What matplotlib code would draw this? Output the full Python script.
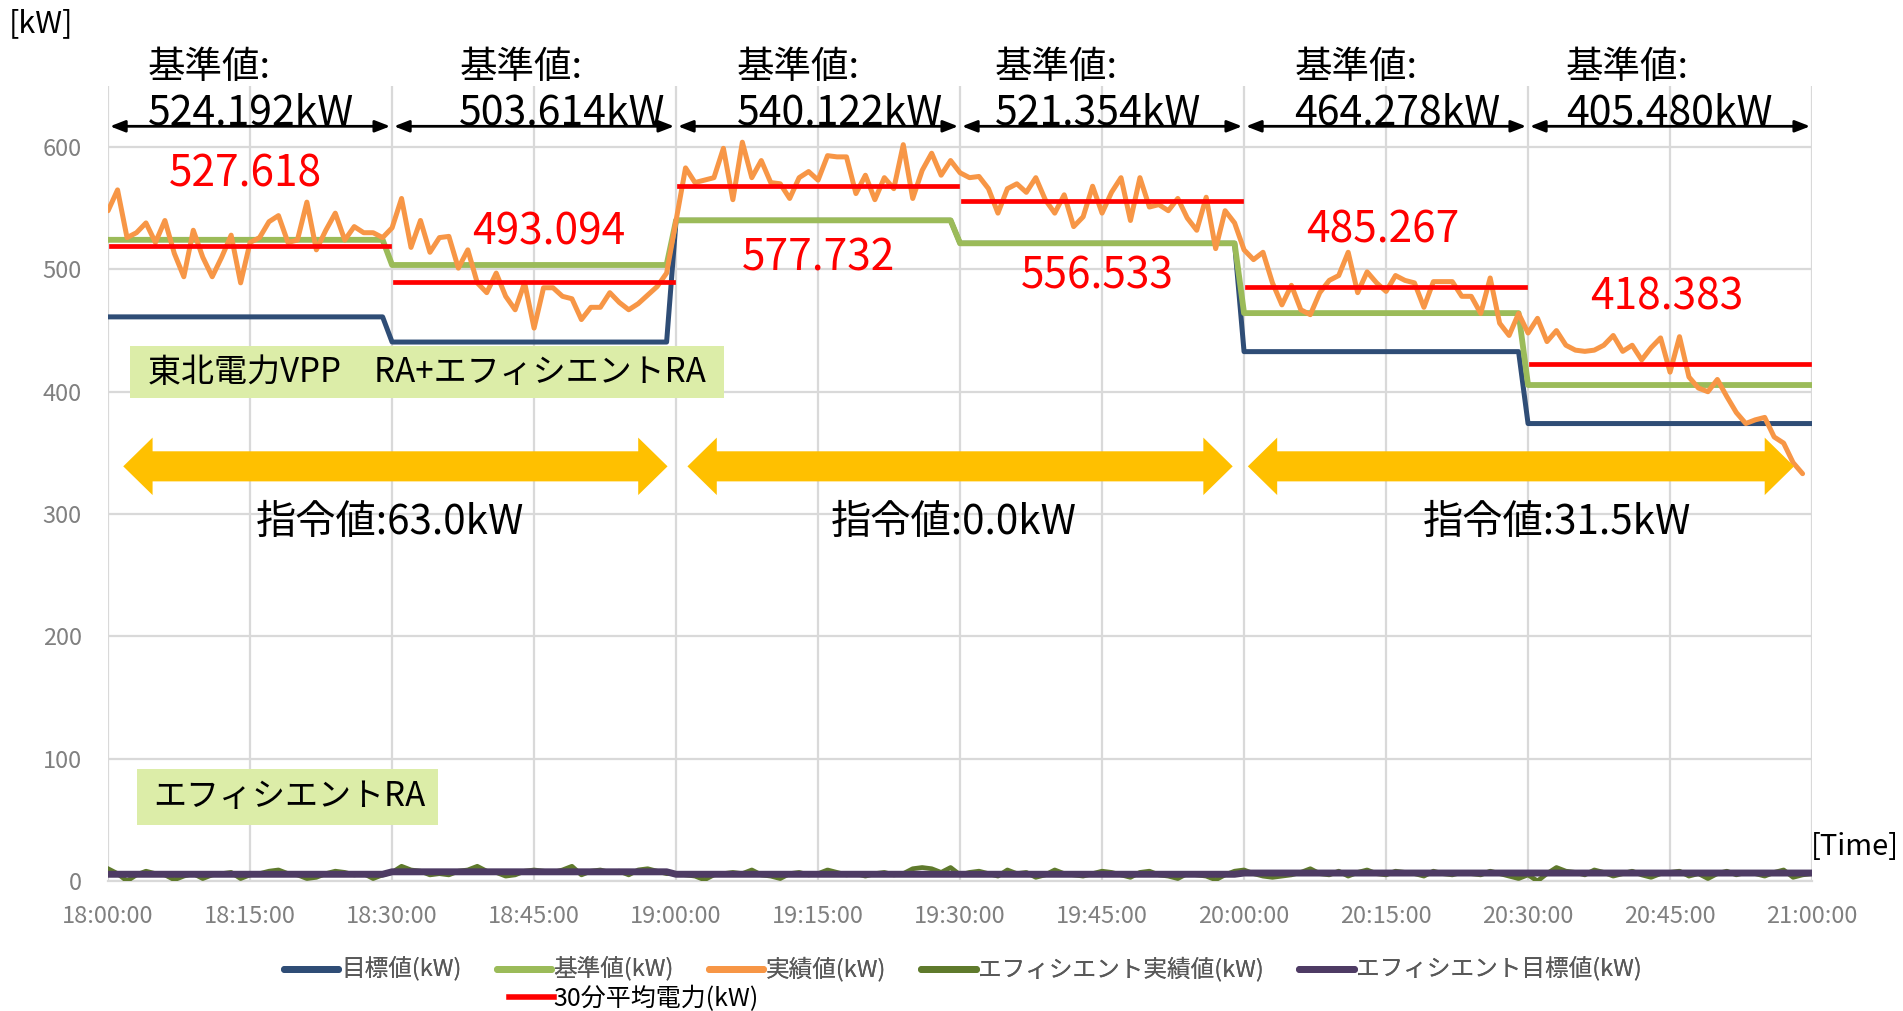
import numpy as np
import matplotlib.pyplot as plt
from matplotlib.patches import Polygon, Rectangle
from matplotlib.lines import Line2D

plt.rcParams["font.family"] = ["Noto Sans CJK JP", "DejaVu Sans"]

# ----------------------------
# Data (1-minute samples from 18:00, x = minutes since 18:00)
# ----------------------------
tick_labels = ["18:00:00", "18:15:00", "18:30:00", "18:45:00", "19:00:00",
               "19:15:00", "19:30:00", "19:45:00", "20:00:00", "20:15:00",
               "20:30:00", "20:45:00", "21:00:00"]

period_starts = [0, 30, 60, 90, 120, 150]
baseline_kw = [524.192, 503.614, 540.122, 521.354, 464.278, 405.480]
baseline_text = ["524.192kW", "503.614kW", "540.122kW", "521.354kW", "464.278kW", "405.480kW"]
command_kw = [63.0, 63.0, 0.0, 0.0, 31.5, 31.5]
command_text = ["指令値:63.0kW", "指令値:0.0kW", "指令値:31.5kW"]

# red 30-minute average bars (as drawn) and their labels
avg_line_kw = [519, 490, 568, 556, 486, 423]
avg_text = ["527.618", "493.094", "577.732", "556.533", "485.267", "418.383"]

# efficient RA target per half hour
eff_target_kw = [5.5, 7.5, 5.5, 5.5, 6.5, 6.5]

# measured power, 18:00 .. 20:59
actual_kw = [
    548, 565, 526, 530, 538, 522, 540, 513, 494, 532, 510, 494, 510, 528, 489,
    522, 526, 539, 544, 522, 524, 555, 516, 532, 546, 524, 535, 530, 530, 526,
    534, 558, 518, 540, 514, 526, 527, 501, 516, 489, 481, 497, 478, 467, 489,
    452, 485, 485, 478, 476, 459, 469, 469, 481, 473, 467, 472, 479, 486, 497,
    540, 583, 571, 573, 575, 599, 557, 604, 575, 589, 571, 570, 558, 575, 580,
    573, 593, 592, 592, 562, 577, 557, 575, 566, 602, 558, 581, 595, 577, 589,
    579, 575, 576, 566, 546, 566, 570, 563, 575, 557, 546, 561, 535, 543, 568,
    546, 563, 575, 540, 575, 551, 553, 548, 558, 542, 532, 559, 517, 548, 538,
    516, 508, 514, 489, 471, 487, 467, 463, 481, 491, 495, 514, 481, 498, 489,
    482, 495, 491, 489, 469, 490, 490, 490, 478, 478, 464, 493, 456, 446, 464,
    448, 460, 441, 450, 438, 434, 433, 434, 438, 446, 433, 438, 426, 436, 444,
    416, 445, 412, 403, 400, 410, 396, 383, 374, 377, 379, 363, 358, 342, 333,
]

# efficient RA measured power, 18:00 .. 21:00
eff_actual_kw = [
    10, 6, 0, 5, 8, 6, 5, 1, 4, 6, 2, 5, 6, 7, 2, 5, 6, 8, 9, 6, 5, 2, 3, 6, 8, 7, 5, 6, 2, 5,
    7, 12, 9, 8, 5, 6, 5, 8, 9, 12, 8, 7, 4, 5, 8, 9, 8, 7, 9, 12, 5, 8, 9, 7, 8, 5, 9, 10, 8, 6,
    6, 5, 4, 1, 5, 6, 7, 6, 9, 5, 4, 2, 6, 7, 5, 6, 9, 7, 5, 6, 4, 6, 7, 5, 6, 10, 11, 10, 7, 11,
    5, 7, 8, 6, 4, 9, 6, 7, 3, 5, 9, 6, 5, 4, 6, 8, 7, 5, 3, 7, 8, 5, 4, 2, 6, 5, 4, 1, 5, 8,
    9, 6, 4, 3, 4, 5, 7, 10, 6, 5, 8, 4, 7, 9, 6, 5, 8, 7, 6, 4, 8, 6, 5, 7, 6, 5, 8, 6, 4, 2,
    5, 0, 6, 11, 8, 7, 5, 9, 7, 4, 6, 8, 5, 3, 6, 7, 8, 4, 6, 2, 6, 8, 5, 7, 6, 4, 7, 9, 3, 5, 6,
]

# ----------------------------
# Step series on the minute grid
# ----------------------------
minutes = np.arange(181)
period_idx = np.minimum(minutes // 30, 5)
baseline_series = np.array(baseline_kw)[period_idx]
target_series = (np.array(baseline_kw) - np.array(command_kw))[period_idx]
eff_target_series = np.array(eff_target_kw)[period_idx]

C_BLUE = "#2F4D76"
C_GREEN = "#9BBB59"
C_ORANGE = "#F79646"
C_DGREEN = "#5F7A2C"
C_PURPLE = "#4E3B64"
C_RED = "#FF0000"
C_GRID = "#D9D9D9"
C_TICK = "#808080"

fig = plt.figure(figsize=(19.03, 10.11), dpi=100)
ax = fig.add_axes([0.0568, 0.1286, 0.8954, 0.7864])

ax.plot(minutes, target_series, color=C_BLUE, lw=3.6, solid_capstyle="round", zorder=3)
ax.plot(minutes, baseline_series, color=C_GREEN, lw=4.2, solid_capstyle="round", zorder=4)
ax.plot(minutes[:len(actual_kw)], actual_kw, color=C_ORANGE, lw=3.6,
        solid_capstyle="round", solid_joinstyle="round", zorder=5)
ax.plot(minutes, eff_actual_kw, color=C_DGREEN, lw=3.4, zorder=5)
ax.plot(minutes, eff_target_series, color=C_PURPLE, lw=5.0, solid_capstyle="round", zorder=6)

# red half-hour averages
for t0, v in zip(period_starts, avg_line_kw):
    ax.plot([t0 + 0.3, t0 + 29.7], [v, v], color=C_RED, lw=3.4, zorder=7)

# ----------------------------
# Axes styling
# ----------------------------
ax.set_xlim(0, 180)
ax.set_ylim(0, 650)
ax.set_xticks(range(0, 181, 15))
ax.set_xticklabels(tick_labels)
ax.set_yticks(range(0, 601, 100))
ax.tick_params(axis="both", length=0, labelsize=17, colors=C_TICK)
ax.tick_params(axis="x", pad=17)
ax.tick_params(axis="y", pad=19)
ax.grid(color=C_GRID, lw=1.6, zorder=0)
ax.set_axisbelow(True)
for side in ["top", "right", "left"]:
    ax.spines[side].set_visible(False)
ax.spines["bottom"].set_color(C_GRID)
ax.spines["bottom"].set_linewidth(1.6)

# ----------------------------
# Baseline labels with black double arrows
# ----------------------------
label_dx = [4.2, 7.1, 6.4, 3.7, 5.3, 4.0]
for t0, txt, dx in zip(period_starts, baseline_text, label_dx):
    ax.annotate("", xy=(t0 + 0.2, 617), xytext=(t0 + 29.8, 617),
                arrowprops=dict(arrowstyle="<|-|>,head_length=0.9,head_width=0.35",
                                color="black", lw=2, shrinkA=0, shrinkB=0),
                annotation_clip=False, zorder=8)
    ax.text(t0 + dx, 665, "基準値:", fontsize=27, ha="left", va="center", clip_on=False)
    ax.text(t0 + dx, 628, txt, fontsize=29.5, ha="left", va="center", clip_on=False, zorder=9)

# red average labels
avg_text_x = [14.5, 46.6, 75.0, 104.5, 134.7, 164.6]
avg_text_y = [578, 530, 509, 494, 532, 477]
for x, y, txt in zip(avg_text_x, avg_text_y, avg_text):
    ax.text(x, y, txt, fontsize=30.5, color=C_RED, ha="center", va="center", zorder=9)

# ----------------------------
# Yellow command arrows
# ----------------------------
arrow_y = 339
head_len, head_half, body_half = 3.1, 23.5, 12.3
arrow_left = [1.6, 61.2, 120.4]
arrow_right = [59.1, 118.8, 178.1]
for x0, x1 in zip(arrow_left, arrow_right):
    verts = [
        (x0, arrow_y), (x0 + head_len, arrow_y + head_half), (x0 + head_len, arrow_y + body_half),
        (x1 - head_len, arrow_y + body_half), (x1 - head_len, arrow_y + head_half), (x1, arrow_y),
        (x1 - head_len, arrow_y - head_half), (x1 - head_len, arrow_y - body_half),
        (x0 + head_len, arrow_y - body_half), (x0 + head_len, arrow_y - head_half),
    ]
    ax.add_patch(Polygon(verts, closed=True, facecolor="#FFC000", edgecolor="none", zorder=6))

command_text_x = [29.8, 89.3, 153.1]
for x, txt in zip(command_text_x, command_text):
    ax.text(x, 293, txt, fontsize=29, ha="center", va="center", zorder=9)

# ----------------------------
# Green label boxes
# ----------------------------
ax.add_patch(Rectangle((2.3, 395), 62.8, 42.5, facecolor="#DCEDA8", edgecolor="none", zorder=7))
ax.text(4.2, 416, "東北電力VPP　RA+エフィシエントRA", fontsize=23.8, ha="left", va="center", zorder=9)
ax.add_patch(Rectangle((3.1, 46), 31.7, 45.6, facecolor="#DCEDA8", edgecolor="none", zorder=7))
ax.text(4.75, 69, "エフィシエントRA", fontsize=23.8, ha="left", va="center", zorder=9)

# axis unit labels
fig.text(9 / 1903, 1 - 24 / 1011, "[kW]", fontsize=22, ha="left", va="center")
fig.text(0.998, 1 - 847 / 1011, "[Time]", fontsize=21, ha="right", va="center")

# ----------------------------
# Legend
# ----------------------------
handles = [
    Line2D([], [], color=C_BLUE, lw=5, solid_capstyle="round"),
    Line2D([], [], color=C_GREEN, lw=5, solid_capstyle="round"),
    Line2D([], [], color=C_ORANGE, lw=5, solid_capstyle="round"),
    Line2D([], [], color=C_DGREEN, lw=5, solid_capstyle="round"),
    Line2D([], [], color=C_PURPLE, lw=5, solid_capstyle="round"),
]
names = ["目標値(kW)", "基準値(kW)", "実績値(kW)", "エフィシエント実績値(kW)", "エフィシエント目標値(kW)"]
leg = fig.legend(handles, names, loc="center", bbox_to_anchor=(0.506, 0.041), ncol=5,
                 frameon=False, fontsize=17, handlelength=2.3, handletextpad=0.1,
                 columnspacing=1.5, labelcolor="#595959")
fig.add_artist(leg)
leg2 = fig.legend([Line2D([], [], color=C_RED, lw=4)], ["30分平均電力(kW)"],
                  loc="center left", bbox_to_anchor=(0.262, 0.012), frameon=False,
                  fontsize=18, handlelength=1.8, handletextpad=0.0, borderaxespad=0)

fig.savefig("out.png", dpi=100)
